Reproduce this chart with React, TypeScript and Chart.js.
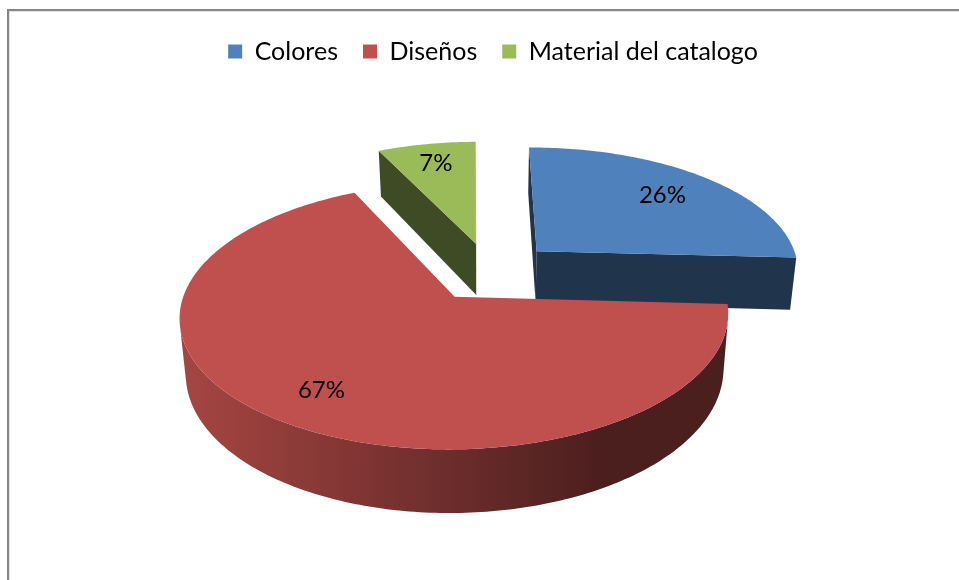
import React, { useEffect, useRef } from "react";
import { Chart, registerables } from "chart.js";

Chart.register(...registerables);

const categories = ["Colores", "Diseños", "Material del catalogo"];
const shares = [26, 67, 7];
const sliceColors = ["#4F81BD", "#C0504D", "#9BBB59"];
const explode = [66, 62, 64];
const labelRadii = [0.74, 0.78, 0.79];

// Oblique view of the disc: tilt squashes depth, perspective enlarges the near side.
const TILT = 0.468;
const PERSPECTIVE = 0.14;
const THICKNESS = 53;
const BASE_SHRINK = 0.98;
const CENTRE_SHIFT_X = -3;
const FONT = "Lato, 'Open Sans', sans-serif";

type Pt = { x: number; y: number };

function shade(hex: string, k: number) {
  const n = parseInt(hex.slice(1), 16);
  const c = [(n >> 16) & 255, (n >> 8) & 255, n & 255].map((v) => Math.round(v * k));
  return `rgb(${c[0]},${c[1]},${c[2]})`;
}

const pie3d = {
  id: "pie3d",
  beforeDatasetsDraw(chart: any) {
    const ctx: CanvasRenderingContext2D = chart.ctx;
    const arcs = chart.getDatasetMeta(0).data as any[];
    const first = arcs[0];
    const R: number = first.outerRadius;
    const cx: number = first.x + CENTRE_SHIFT_X;
    const cy: number = first.y;

    const project = (u: number, v: number): Pt => {
      const w = 1 - PERSPECTIVE * v;
      return { x: cx + (R * u) / w, y: cy + (R * TILT * v) / w };
    };
    const lower = (u: number, v: number): Pt => {
      const w = 1 - PERSPECTIVE * v;
      const p = project(u, v);
      return { x: cx + (p.x - cx) * BASE_SHRINK, y: p.y + THICKNESS / w };
    };
    const poly = (pts: Pt[], fill: string | CanvasGradient) => {
      ctx.beginPath();
      pts.forEach((p, i) => (i ? ctx.lineTo(p.x, p.y) : ctx.moveTo(p.x, p.y)));
      ctx.closePath();
      ctx.fillStyle = fill;
      ctx.fill();
    };
    const cross = (a: Pt, b: Pt, c: Pt) =>
      (b.x - a.x) * (c.y - b.y) - (b.y - a.y) * (c.x - b.x);

    // Far slices first, the large near slice last.
    const order = [0, 2, 1];
    for (const i of order) {
      const arc = arcs[i];
      const color = sliceColors[i];
      const mid = (arc.startAngle + arc.endAngle) / 2;
      const off = arc.options.offset / R;
      const ox = Math.cos(mid) * off;
      const oy = Math.sin(mid) * off;
      const steps = Math.max(24, Math.round((arc.endAngle - arc.startAngle) * 60));
      const rim: [number, number][] = [];
      for (let s = 0; s <= steps; s++) {
        const a = arc.startAngle + ((arc.endAngle - arc.startAngle) * s) / steps;
        rim.push([ox + Math.cos(a), oy + Math.sin(a)]);
      }
      const cut = shade(color, 0.4);
      const a0 = project(ox, oy);
      const b0 = lower(ox, oy);
      const s0 = project(rim[0][0], rim[0][1]);
      const sb = lower(rim[0][0], rim[0][1]);
      const e0 = project(rim[steps][0], rim[steps][1]);
      const eb = lower(rim[steps][0], rim[steps][1]);
      if (cross(a0, s0, sb) < 0) poly([a0, s0, sb, b0], cut);
      if (cross(a0, e0, eb) > 0) poly([a0, e0, eb, b0], cut);

      // Curved outer wall, lit from the left; contiguous visible stretches become one shape.
      const lit = ctx.createLinearGradient(cx - R * 1.15, 0, cx + R * 0.42, 0);
      lit.addColorStop(0, shade(color, 0.86));
      lit.addColorStop(1, shade(color, 0.39));
      let upper: Pt[] = [];
      let base: Pt[] = [];
      const flush = () => {
        if (upper.length > 1) poly([...upper, ...base.reverse()], lit);
        upper = [];
        base = [];
      };
      for (let s = 0; s < steps; s++) {
        const t1 = project(rim[s][0], rim[s][1]);
        const t2 = project(rim[s + 1][0], rim[s + 1][1]);
        const l1 = lower(rim[s][0], rim[s][1]);
        const l2 = lower(rim[s + 1][0], rim[s + 1][1]);
        if (cross(t1, t2, l2) < 0) {
          if (!upper.length) {
            upper.push(t1);
            base.push(l1);
          }
          upper.push(t2);
          base.push(l2);
        } else {
          flush();
        }
      }
      flush();

      // Top face.
      poly([a0, ...rim.map(([u, v]) => project(u, v))], color);
    }

    // Share labels sit on the top faces.
    ctx.font = `24px ${FONT}`;
    ctx.fillStyle = "#000";
    ctx.textAlign = "center";
    ctx.textBaseline = "middle";
    arcs.forEach((arc, i) => {
      const mid = (arc.startAngle + arc.endAngle) / 2;
      const off = arc.options.offset / R;
      const p = project(
        Math.cos(mid) * (off + labelRadii[i]),
        Math.sin(mid) * (off + labelRadii[i])
      );
      ctx.fillText(`${shares[i]}%`, p.x, p.y);
    });
    return false;
  },
};

// Thin chart border along the top and left of the page.
const frame = {
  id: "frame",
  beforeDraw(chart: any) {
    const ctx: CanvasRenderingContext2D = chart.ctx;
    ctx.save();
    ctx.fillStyle = "#868686";
    ctx.fillRect(7, 9, chart.width - 7, 2);
    ctx.fillRect(7, 9, 2, chart.height - 9);
    ctx.fillStyle = "#e4e4e4";
    ctx.fillRect(9, 11, chart.width - 9, 1);
    ctx.fillRect(9, 11, 1, chart.height - 11);
    ctx.restore();
  },
};

export default function App() {
  const ref = useRef<HTMLCanvasElement>(null);
  useEffect(() => {
    document.body.style.margin = "0";
    document.body.style.background = "#fff";
    const chart = new Chart(ref.current!, {
      type: "pie",
      data: {
        labels: categories,
        datasets: [
          {
            data: shares,
            backgroundColor: sliceColors,
            offset: explode,
            borderWidth: 0,
          },
        ],
      },
      plugins: [frame, pie3d],
      options: {
        animation: false,
        responsive: false,
        radius: 264,
        rotation: -0.5,
        layout: { padding: { top: 14, left: 27, right: 0, bottom: 110 } },
        plugins: {
          tooltip: { enabled: false },
          legend: {
            position: "top",
            labels: {
              boxWidth: 14,
              boxHeight: 14,
              padding: 25,
              color: "#000",
              font: { family: FONT, size: 25 },
            },
          },
        },
      },
    } as any);
    return () => chart.destroy();
  }, []);
  return <canvas ref={ref} width={959} height={580} style={{ display: "block" }} />;
}
